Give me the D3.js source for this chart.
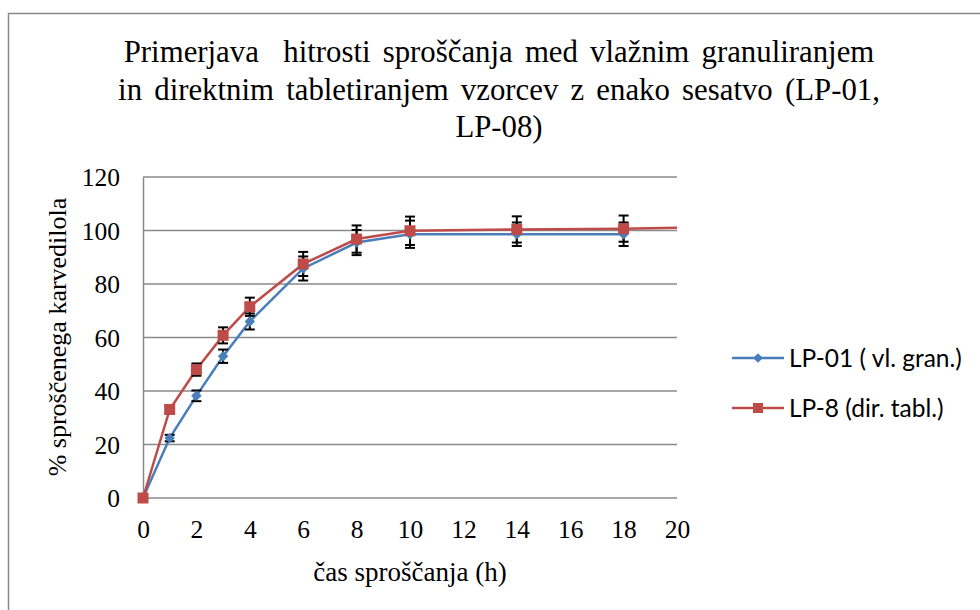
<!DOCTYPE html>
<html>
<head>
<meta charset="utf-8">
<script src="https://cdn.jsdelivr.net/npm/d3@7"></script>
<style>
  body { margin: 0; background: #fff; }
  svg text { fill: #000; }
</style>
</head>
<body>
<svg id="chart" width="980" height="610"></svg>
<script>
// Data
const titleLines = [
  "Primerjava  hitrosti sproščanja med vlažnim granuliranjem",
  "in direktnim tabletiranjem vzorcev z enako sesatvo (LP-01,",
  "LP-08)",
];
const timeHours = [0, 1, 2, 3, 4, 6, 8, 10, 14, 18];
const lp01Values = [0, 22.4, 38.2, 53.0, 66.0, 85.8, 95.5, 98.6, 98.6, 98.6];
const lp01Errors = [0, 1.2, 2.0, 2.5, 3.0, 4.5, 4.7, 5.1, 4.4, 4.4];
const lp08Values = [0, 33.1, 48.0, 60.8, 71.5, 87.5, 96.8, 99.9, 100.4, 100.7];
const lp08Errors = [0, 1.5, 2.3, 3.0, 3.4, 4.5, 5.1, 5.3, 4.9, 4.9];
// red line continues to the right edge of the plot
const lp08TailX = 20;
const lp08TailY = 101;
const xTicks = [0, 2, 4, 6, 8, 10, 12, 14, 16, 18, 20];
const yTicks = [0, 20, 40, 60, 80, 100, 120];
const seriesNames = ["LP-01 ( vl. gran.)", "LP-8 (dir. tabl.)"];

const blue = "#4a7ebb";
const red = "#be4b48";
const gridColor = "#8a8a8a";
const serif = "Liberation Serif";

const svg = d3.select("#chart");

// outer chart border
svg.append("rect")
  .attr("x", 8.5).attr("y", 13.5)
  .attr("width", 1000).attr("height", 700)
  .attr("fill", "none")
  .attr("stroke", gridColor)
  .attr("stroke-width", 1.5);

// title
const title = svg.append("text")
  .attr("text-anchor", "middle")
  .attr("font-family", serif)
  .attr("font-size", 30.8)
  .attr("word-spacing", 4.5)
  .style("white-space", "pre");
titleLines.forEach((line, i) => {
  title.append("tspan")
    .attr("x", 499)
    .attr("y", 62 + i * 37.5)
    .text(line);
});

// plot area
const margin = { top: 177, left: 143 };
const width = 534;
const height = 321;
const g = svg.append("g").attr("transform", `translate(${margin.left},${margin.top})`);

const x = d3.scaleLinear().domain([0, 20]).range([0, width]);
const y = d3.scaleLinear().domain([0, 120]).range([height, 0]);

// gridlines
g.append("g")
  .selectAll("line")
  .data(yTicks)
  .enter()
  .append("line")
  .attr("x1", 0).attr("x2", width)
  .attr("y1", (d) => y(d)).attr("y2", (d) => y(d))
  .attr("stroke", gridColor)
  .attr("stroke-width", 1.5);

// y axis
const yAxis = g.append("g")
  .call(d3.axisLeft(y).tickValues(yTicks).tickSize(0).tickPadding(23));
yAxis.attr("font-family", serif).attr("font-size", 25.5);
yAxis.select(".domain").attr("stroke", gridColor).attr("stroke-width", 1.5);
yAxis.selectAll("text").attr("dy", "0.35em");

// x axis
const xAxis = g.append("g")
  .attr("transform", `translate(0,${height})`)
  .call(d3.axisBottom(x).tickValues(xTicks).tickSize(0).tickPadding(22));
xAxis.attr("font-family", serif).attr("font-size", 25.5);
xAxis.select(".domain").remove();

// axis titles
svg.append("text")
  .attr("x", 410).attr("y", 581)
  .attr("text-anchor", "middle")
  .attr("font-family", serif)
  .attr("font-size", 27)
  .text("čas sproščanja (h)");

svg.append("text")
  .attr("transform", "translate(66,337) rotate(-90)")
  .attr("text-anchor", "middle")
  .attr("font-family", serif)
  .attr("font-size", 26)
  .text("% sproščenega karvedilola");

// series
const lp01 = timeHours.map((t, i) => ({ t, v: lp01Values[i], e: lp01Errors[i] }));
const lp08 = timeHours.map((t, i) => ({ t, v: lp08Values[i], e: lp08Errors[i] }));

const line = d3.line().x((d) => x(d.t)).y((d) => y(d.v));

g.append("path")
  .datum(lp01)
  .attr("fill", "none")
  .attr("stroke", blue)
  .attr("stroke-width", 2.5)
  .attr("d", line);

g.append("path")
  .datum(lp08.concat([{ t: lp08TailX, v: lp08TailY }]))
  .attr("fill", "none")
  .attr("stroke", red)
  .attr("stroke-width", 2.5)
  .attr("d", line);

// error bars
function drawErrors(data) {
  const eb = g.append("g").attr("stroke", "#000").attr("stroke-width", 2);
  data.filter((d) => d.e > 0).forEach((d) => {
    const cx = x(d.t);
    eb.append("line")
      .attr("x1", cx).attr("x2", cx)
      .attr("y1", y(d.v - d.e)).attr("y2", y(d.v + d.e));
    [d.v - d.e, d.v + d.e].forEach((yy) => {
      eb.append("line")
        .attr("x1", cx - 5).attr("x2", cx + 5)
        .attr("y1", y(yy)).attr("y2", y(yy));
    });
  });
}
drawErrors(lp01);
drawErrors(lp08);

// markers
g.selectAll(".diamond")
  .data(lp01)
  .enter()
  .append("path")
  .attr("d", d3.symbol().type(d3.symbolDiamond2).size(70))
  .attr("transform", (d) => `translate(${x(d.t)},${y(d.v)})`)
  .attr("fill", blue);

g.selectAll(".square")
  .data(lp08)
  .enter()
  .append("rect")
  .attr("x", (d) => x(d.t) - 5.5)
  .attr("y", (d) => y(d.v) - 5.5)
  .attr("width", 11).attr("height", 11)
  .attr("fill", red);

// legend
const legend = svg.append("g").attr("transform", "translate(732,358)");
[blue, red].forEach((col, i) => {
  const row = legend.append("g").attr("transform", `translate(0,${i * 50})`);
  row.append("line")
    .attr("x1", 0).attr("x2", 52)
    .attr("stroke", col)
    .attr("stroke-width", 2.5);
  if (i === 0) {
    row.append("path")
      .attr("d", d3.symbol().type(d3.symbolDiamond2).size(60))
      .attr("transform", "translate(26,0)")
      .attr("fill", col);
  } else {
    row.append("rect")
      .attr("x", 21).attr("y", -5).attr("width", 10).attr("height", 10)
      .attr("fill", col);
  }
  row.append("text")
    .attr("x", 57).attr("dy", "0.35em")
    .attr("font-family", "Lato, 'Open Sans', sans-serif")
    .attr("font-size", 24.5)
    .text(seriesNames[i]);
});
</script>
</body>
</html>
